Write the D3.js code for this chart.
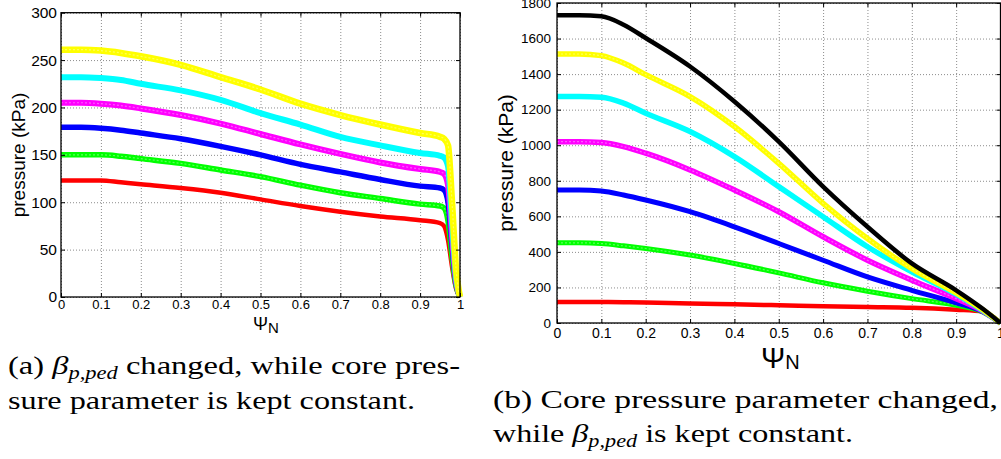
<!DOCTYPE html>
<html>
<head>
<meta charset="utf-8">
<script src="https://cdn.jsdelivr.net/npm/d3@7"></script>
<style>
  body { margin: 0; background: #fff; }
  svg { display: block; }
  .tick text { font-family: "Liberation Sans", Arial, sans-serif; fill: #000; }
</style>
</head>
<body>
<script>
// ---------- data ----------
const xTickValues = [0, 0.1, 0.2, 0.3, 0.4, 0.5, 0.6, 0.7, 0.8, 0.9, 1];
const xTickLabels = ['0', '0.1', '0.2', '0.3', '0.4', '0.5', '0.6', '0.7', '0.8', '0.9', '1'];

const yTicksA = [0, 50, 100, 150, 200, 250, 300];
const yTicksB = [0, 200, 400, 600, 800, 1000, 1200, 1400, 1600, 1800];

const colors = ['#ff0000', '#00ff00', '#0000ff', '#ff00ff', '#00ffff', '#ffff00', '#000000'];
// hollow markers (squares / circles) leave a lighter core in the thick band
const hollow = [false, true, false, true, false, true, false];

// (a) pedestal beta changed
const psiA = [0, 0.05, 0.1, 0.15, 0.2, 0.3, 0.4, 0.5, 0.6, 0.7, 0.8, 0.9, 0.95, 0.96, 0.97, 0.98, 0.99, 1.0];
const redA     = [123, 123, 123, 121, 119, 115, 110, 103, 96, 90, 85, 81, 78, 75, 60, 32, 9, 0];
const greenA   = [150, 150, 150, 148.5, 146, 141, 134, 127, 118, 110, 104, 98, 96, 94, 80, 42, 12, 0];
const blueA    = [179, 179, 178, 176, 173, 167, 159, 150, 140, 132, 124, 117, 115, 113, 100, 54, 15, 0];
const magentaA = [205, 205, 204, 202, 199, 192, 183, 172, 161, 151, 142, 135, 132, 130, 118, 64, 18, 0];
const cyanA    = [232, 232, 231, 229, 225, 218, 208, 194, 182, 169, 160, 152, 149, 147, 138, 78, 22, 0];
const yellowA  = [261, 261, 260, 257.5, 254, 245, 232, 219, 204, 192, 182, 173, 169, 167, 160, 100, 30, 0];

// (b) core pressure parameter changed
const psiB = [0, 0.05, 0.1, 0.15, 0.2, 0.3, 0.4, 0.5, 0.6, 0.7, 0.8, 0.9, 0.96, 1.0];
const redB     = [118, 118, 118, 117, 115, 109, 105, 100, 94, 90, 86, 75, 65, 0];
const greenB   = [451, 451, 447, 434, 419, 382, 335, 282, 226, 179, 137, 100, 62, 0];
const blueB    = [748, 748, 742, 720, 692, 626, 541, 447, 353, 259, 184, 113, 64, 0];
const magentaB = [1020, 1020, 1015, 992, 955, 861, 748, 626, 485, 353, 241, 137, 67, 0];
const cyanB    = [1274, 1274, 1270, 1237, 1180, 1077, 936, 767, 598, 429, 288, 162, 70, 0];
const yellowB  = [1513, 1513, 1504, 1462, 1397, 1274, 1105, 898, 673, 475, 306, 169, 74, 0];
const blackB   = [1731, 1731, 1725, 1678, 1603, 1443, 1246, 1020, 767, 541, 335, 184, 80, 0];

const seriesA = [redA, greenA, blueA, magentaA, cyanA, yellowA];
const seriesB = [redB, greenB, blueB, magentaB, cyanB, yellowB, blackB];

const svg = d3.select('body').append('svg')
  .attr('width', 1001)
  .attr('height', 459)
  .style('background', '#fff');

/******************** one MATLAB-like panel ********************/
function drawPanel(p) {
  const x = d3.scaleLinear().domain([0, 1]).range([p.left, p.right]);
  const y = d3.scaleLinear().domain([0, p.yMax]).range([p.bottom, p.top]);
  const h = p.bottom - p.top;
  const w = p.right - p.left;
  const g = svg.append('g');

  // dotted grid
  g.append('g')
    .attr('transform', `translate(0,${p.bottom})`)
    .call(d3.axisBottom(x).tickValues(xTickValues).tickSize(-h).tickFormat(''))
    .call(s => s.select('.domain').remove())
    .selectAll('line')
    .attr('stroke', '#8c8c8c')
    .attr('stroke-dasharray', '1,2');

  g.append('g')
    .attr('transform', `translate(${p.left},0)`)
    .call(d3.axisLeft(y).tickValues(p.yTicks).tickSize(-w).tickFormat(''))
    .call(s => s.select('.domain').remove())
    .selectAll('line')
    .attr('stroke', '#8c8c8c')
    .attr('stroke-dasharray', '1,2');

  // curves
  const line = d3.line()
    .x((d, i) => x(p.psi[i]))
    .y(d => y(d))
    .curve(d3.curveMonotoneX);

  p.series.forEach((vals, k) => {
    g.append('path')
      .datum(vals)
      .attr('d', line)
      .attr('fill', 'none')
      .attr('stroke', colors[k])
      .attr('stroke-width', p.widths[k])
      .attr('stroke-linejoin', 'round');
    if (hollow[k]) {
      g.append('path')
        .datum(vals)
        .attr('d', line)
        .attr('fill', 'none')
        .attr('stroke', '#fff')
        .attr('stroke-opacity', 0.35)
        .attr('stroke-width', 1.2)
        .attr('stroke-dasharray', '2,2');
    }
  });

  // box
  g.append('rect')
    .attr('x', p.left)
    .attr('y', p.top)
    .attr('width', w)
    .attr('height', h)
    .attr('fill', 'none')
    .attr('stroke', '#000')
    .attr('stroke-width', 1.3);

  // labels
  g.append('g')
    .attr('transform', `translate(0,${p.bottom})`)
    .call(d3.axisBottom(x).tickValues(xTickValues).tickSize(0).tickPadding(p.xPad)
      .tickFormat((d, i) => xTickLabels[i]))
    .call(s => s.select('.domain').remove())
    .selectAll('text')
    .style('font-size', p.xFont + 'px');

  g.append('g')
    .attr('transform', `translate(${p.left},0)`)
    .call(d3.axisLeft(y).tickValues(p.yTicks).tickSize(0).tickPadding(p.yPad)
      .tickFormat(d3.format('d')))
    .call(s => s.select('.domain').remove())
    .selectAll('text')
    .style('font-size', p.yFont + 'px');

  // inward ticks on all four sides
  g.append('g')
    .attr('transform', `translate(0,${p.bottom})`)
    .call(d3.axisBottom(x).tickValues(xTickValues).tickSize(-4).tickFormat(''))
    .call(s => s.select('.domain').remove());
  g.append('g')
    .attr('transform', `translate(0,${p.top})`)
    .call(d3.axisTop(x).tickValues(xTickValues).tickSize(-4).tickFormat(''))
    .call(s => s.select('.domain').remove());
  g.append('g')
    .attr('transform', `translate(${p.left},0)`)
    .call(d3.axisLeft(y).tickValues(p.yTicks).tickSize(-4).tickFormat(''))
    .call(s => s.select('.domain').remove());
  g.append('g')
    .attr('transform', `translate(${p.right},0)`)
    .call(d3.axisRight(y).tickValues(p.yTicks).tickSize(-4).tickFormat(''))
    .call(s => s.select('.domain').remove());

  // y label
  g.append('text')
    .attr('transform', `translate(${p.yLabelX},${p.yLabelY}) rotate(-90)`)
    .attr('text-anchor', 'middle')
    .style('font-family', '"Liberation Sans", Arial, sans-serif')
    .style('font-size', p.yLabelFont + 'px')
    .text('pressure (kPa)');

  // x label  Psi_N
  const xl = g.append('text')
    .attr('x', p.xLabelX)
    .attr('y', p.xLabelY)
    .style('font-family', '"Liberation Sans", Arial, sans-serif');
  xl.append('tspan').style('font-size', p.psiFont + 'px').text('Ψ');
  xl.append('tspan').style('font-size', p.nFont + 'px').attr('dy', p.nDy).text('N');
}

drawPanel({
  left: 61, right: 460, top: 12.7, bottom: 297,
  yMax: 300, yTicks: yTicksA, psi: psiA, series: seriesA,
  widths: [4.5, 5.5, 5.5, 6, 6, 6.5],
  xFont: 13, xPad: 3, yFont: 15.5, yPad: 4,
  yLabelX: 25, yLabelY: 155, yLabelFont: 19,
  xLabelX: 253, xLabelY: 330, psiFont: 18, nFont: 15, nDy: 3
});

drawPanel({
  left: 557, right: 1000.5, top: 3, bottom: 323,
  yMax: 1800, yTicks: yTicksB, psi: psiB, series: seriesB,
  widths: [4.5, 5, 5, 5.5, 5.5, 5.5, 4.5],
  xFont: 14, xPad: 5, yFont: 13.5, yPad: 6,
  yLabelX: 513, yLabelY: 163, yLabelFont: 21,
  xLabelX: 761, xLabelY: 368, psiFont: 29, nFont: 20, nDy: 1
});

/******************** captions ********************/
function caption(x, y, len, parts) {
  const t = svg.append('text')
    .attr('x', x)
    .attr('y', y)
    .attr('textLength', len)
    .attr('lengthAdjust', 'spacingAndGlyphs')
    .style('font-family', '"Liberation Serif", "Times New Roman", serif')
    .style('font-size', '26px');
  parts.forEach(pt => {
    const s = t.append('tspan').text(pt.t);
    if (pt.it) s.style('font-style', 'italic');
    if (pt.sub) s.style('font-size', '18px').attr('dy', 5);
    if (pt.up) s.attr('dy', -5);
  });
}

caption(8, 374, 452, [
  {t: '(a) '}, {t: 'β', it: true}, {t: 'p,ped', it: true, sub: true},
  {t: ' changed, while core pres-', up: true}
]);
caption(8, 409, 407, [{t: 'sure parameter is kept constant.'}]);
caption(493, 408, 505, [{t: '(b)  Core  pressure  parameter  changed,'}]);
caption(493, 442, 360, [
  {t: 'while '}, {t: 'β', it: true}, {t: 'p,ped', it: true, sub: true},
  {t: ' is kept constant.', up: true}
]);
</script>
</body>
</html>
